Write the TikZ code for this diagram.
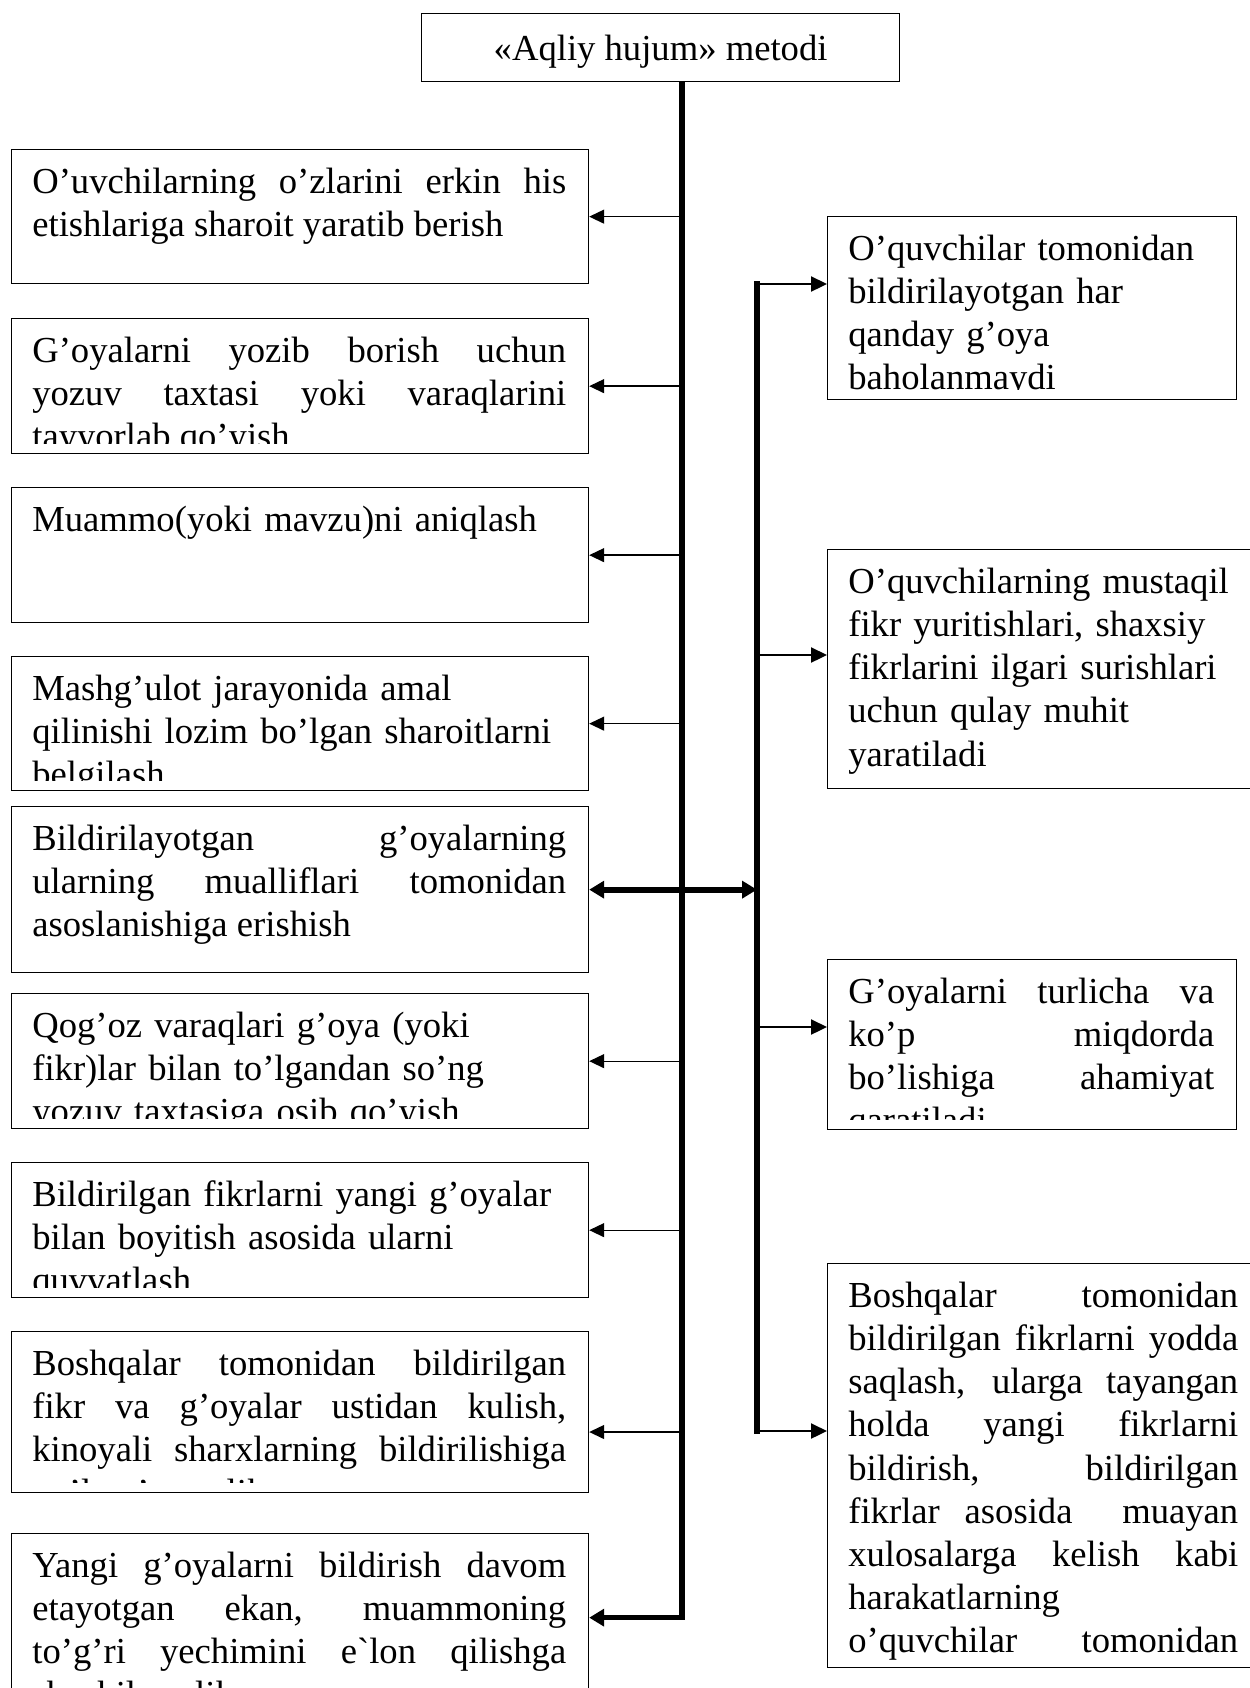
\documentclass[tikz,border=0pt]{standalone}
\usepackage{fontspec}
\setmainfont{Liberation Serif}
\usetikzlibrary{arrows.meta}
\setlength{\parindent}{0pt}
\tolerance=10000 \hbadness=10000 \hyphenpenalty=10000

% text of a box, cut off a little above its lower edge
\newcommand{\boxtext}[4][0.22cm]{%
  \begin{scope}
    \clip (#2.north west) rectangle ([yshift=#1]#2.south east);
    \node[txt, #3] at ([yshift=-0.272cm]#2.north west) {\strut #4};
  \end{scope}}

\tikzset{
  box/.style={draw, line width=0.75pt, anchor=north west, inner sep=0pt,
    font={\fontsize{20.85}{24.6}\selectfont}},
  txt/.style={anchor=north west, inner xsep=0.42cm, inner ysep=0pt,
    font={\fontsize{20.85}{24.6}\selectfont}},
  bus/.style={line width=3pt, line cap=rect},
  larrow/.style={line width=0.75pt, -{Triangle[length=0.3cm, width=0.28cm]}},
  rarrow/.style={line width=1.3pt, -{Triangle[length=0.32cm, width=0.3cm]}},
  bigtip/.tip={Triangle[length=0.3cm, width=0.34cm]},
}

\begin{document}
\begin{tikzpicture}[x=0.02cm, y=-0.02cm]
\useasboundingbox (0,0) rectangle (1250,1688);

\node[box, minimum width=9.56cm, minimum height=1.36cm, text depth=0pt] (top) at (421,13) {«Aqliy hujum» metodi};

% left column
\node[box, minimum width=11.54cm, minimum height=2.68cm] (L1) at (11,149) {};
\node[box, minimum width=11.54cm, minimum height=2.70cm] (L2) at (11,318) {};
\node[box, minimum width=11.54cm, minimum height=2.70cm] (L3) at (11,487) {};
\node[box, minimum width=11.54cm, minimum height=2.68cm] (L4) at (11,656) {};
\node[box, minimum width=11.54cm, minimum height=3.32cm] (L5) at (11,806) {};
\node[box, minimum width=11.54cm, minimum height=2.70cm] (L6) at (11,993) {};
\node[box, minimum width=11.54cm, minimum height=2.70cm] (L7) at (11,1162) {};
\node[box, minimum width=11.54cm, minimum height=3.22cm] (L8) at (11,1331) {};
\node[box, minimum width=11.54cm, minimum height=3.36cm] (L9) at (11,1533) {};

\boxtext{L1}{text width=10.68cm, align=justify}{O’uvchilarning o’zlarini erkin his\linebreak etishlariga sharoit yaratib berish}
\boxtext{L2}{text width=10.68cm, align=justify}{G’oyalarni yozib borish uchun\linebreak yozuv taxtasi yoki varaqlarini\linebreak tayyorlab qo’yish}
\boxtext{L3}{text width=10.68cm, align=left}{Muammo(yoki mavzu)ni aniqlash}
\boxtext{L4}{text width=10.68cm, align=left}{Mashg’ulot jarayonida amal\\ qilinishi lozim bo’lgan sharoitlarni\\ belgilash}
\boxtext{L5}{text width=10.68cm, align=justify}{Bildirilayotgan g’oyalarning\linebreak ularning mualliflari tomonidan\linebreak asoslanishiga erishish}
\boxtext{L6}{text width=10.68cm, align=left}{Qog’oz varaqlari g’oya (yoki\\ fikr)lar bilan to’lgandan so’ng\\ yozuv taxtasiga osib qo’yish}
\boxtext{L7}{text width=10.68cm, align=left}{Bildirilgan fikrlarni yangi g’oyalar\\ bilan boyitish asosida ularni\\ quvvatlash}
\boxtext{L8}{text width=10.68cm, align=justify}{Boshqalar tomonidan bildirilgan\linebreak fikr va g’oyalar ustidan kulish,\linebreak kinoyali sharxlarning bildirilishiga\linebreak yo’l qo’ymaslik}
\boxtext{L9}{text width=10.68cm, align=justify}{Yangi g’oyalarni bildirish davom\linebreak etayotgan ekan, muammoning\linebreak to’g’ri yechimini e\textasciigrave lon qilishga\linebreak shoshilmaslik}

% right column
\node[box, minimum width=8.18cm, minimum height=3.66cm] (R1) at (827,216) {};
\node[box, minimum width=8.64cm, minimum height=4.78cm] (R2) at (827,549) {};
\node[box, minimum width=8.18cm, minimum height=3.40cm] (R3) at (827,959) {};
\node[box, minimum width=8.64cm, minimum height=8.08cm] (R4) at (827,1263) {};

\boxtext{R1}{text width=7.32cm, align=left}{O’quvchilar tomonidan\\ bildirilayotgan har\\ qanday g’oya\\ baholanmaydi}
\boxtext{R2}{text width=7.80cm, align=left}{O’quvchilarning mustaqil\\ fikr yuritishlari, shaxsiy\\ fikrlarini ilgari surishlari\\ uchun qulay muhit\\ yaratiladi}
\boxtext{R3}{text width=7.32cm, align=justify}{G’oyalarni turlicha va\linebreak ko’p miqdorda\linebreak bo’lishiga ahamiyat\linebreak qaratiladi}
\boxtext[0pt]{R4}{text width=7.80cm, align=justify}{Boshqalar tomonidan\linebreak bildirilgan fikrlarni yodda\linebreak saqlash, ularga tayangan\linebreak holda yangi fikrlarni\linebreak bildirish, bildirilgan\linebreak fikrlar asosida~ muayan\linebreak xulosalarga kelish kabi\linebreak harakatlarning\linebreak o’quvchilar tomonidan\linebreak}

% main spine and its branches
\coordinate (sp) at (682,81);
\coordinate (l8) at (682,1432);
\draw[bus, line cap=butt, -bigtip] (top.south -| sp) |- (L9.east);
\foreach \b in {L1,L2,L3,L4,L6,L7}
  \draw[larrow] (sp |- \b.east) -- (\b.east);
\draw[larrow] (l8) -- (l8 -| L8.east);

% second spine
\coordinate (r1) at (757,284);
\coordinate (r2) at (757,655);
\coordinate (r3) at (757,1027);
\coordinate (r4) at (757,1431);
\draw[bus] (r1) -- (r4);
\foreach \i in {1,...,4}
  \draw[rarrow] (r\i) -- (r\i -| R\i.west);
\draw[line width=3.4pt, bigtip-bigtip] (L5.east) -- (L5.east -| r1);
\end{tikzpicture}
\end{document}
